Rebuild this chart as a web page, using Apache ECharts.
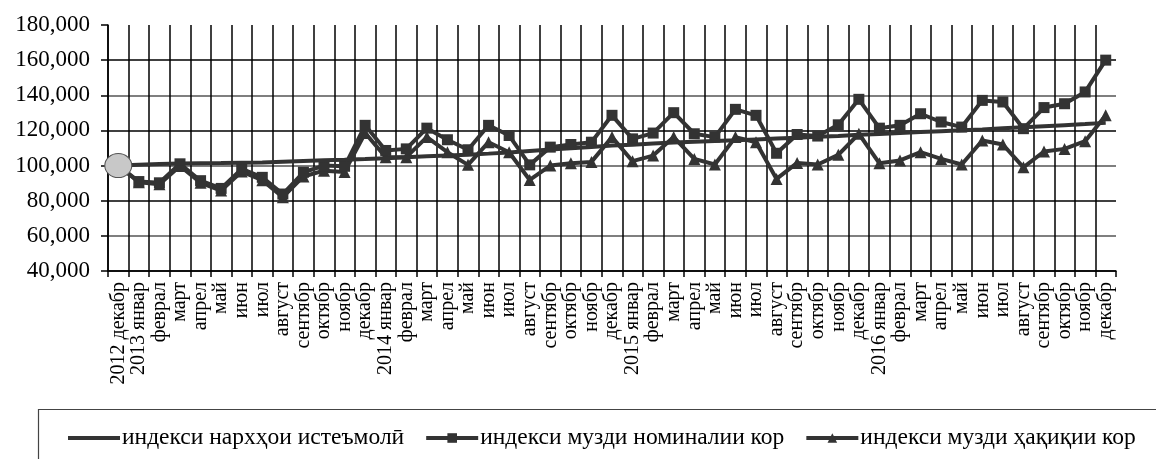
<!DOCTYPE html>
<html lang="tg">
<head>
	<meta charset="utf-8" />
	<title>индексҳо 2012-2016</title>
	<style type="text/css">
		html,body{margin:0;padding:0;background:#fff;}
		#main{width:1156px;height:459px;}
	</style>
</head>
<body>
	<div id="main"></div>
<script src="https://cdn.jsdelivr.net/npm/echarts/dist/echarts.min.js"></script>
<script>
	// категорияҳо: декабри 2012 то декабри 2016
	var months = ['2012 декабр', '2013 январ', 'феврал', 'март', 'апрел', 'май', 'июн', 'июл', 'август', 'сентябр', 'октябр', 'ноябр', 'декабр',
		'2014 январ', 'феврал', 'март', 'апрел', 'май', 'июн', 'июл', 'август', 'сентябр', 'октябр', 'ноябр', 'декабр',
		'2015 январ', 'феврал', 'март', 'апрел', 'май', 'июн', 'июл', 'август', 'сентябр', 'октябр', 'ноябр', 'декабр',
		'2016 январ', 'феврал', 'март', 'апрел', 'май', 'июн', 'июл', 'август', 'сентябр', 'октябр', 'ноябр', 'декабр'];

	// индекси нархҳои истеъмолӣ
	var cpi = [100, 100.5, 100.9, 101.2, 101.3, 101.4, 101.6, 101.8, 102.2, 102.6, 103.0, 103.3, 103.7,
		104.2, 104.7, 105.3, 105.8, 106.2, 106.8, 107.5, 108.3, 109.1, 109.8, 110.6, 111.4,
		111.9, 112.5, 113.1, 113.6, 114.0, 114.4, 114.9, 115.4, 115.9, 116.4, 116.8, 117.5,
		118.0, 118.6, 119.1, 119.6, 120.1, 120.6, 121.2, 121.8, 122.4, 123.0, 123.6, 124.3];

	// индекси музди номиналии кор
	var nominal = [100, 90.9, 90.2, 101.0, 91.4, 87.0, 98.1, 93.3, 83.8, 96.2, 100.0, 99.6, 122.9,
		108.6, 109.5, 121.3, 114.7, 109.0, 122.9, 117.1, 100.4, 110.5, 112.0, 113.3, 128.6,
		115.2, 118.5, 130.1, 118.1, 116.2, 132.0, 128.6, 107.0, 117.7, 116.8, 123.2, 137.7,
		121.3, 122.9, 129.5, 124.8, 121.9, 137.1, 136.2, 121.0, 133.0, 135.2, 141.9, 160.0];

	// индекси музди ҳақиқии кор
	var real = [100, 90.5, 89.4, 99.8, 90.2, 85.8, 96.6, 91.7, 82.0, 93.8, 97.1, 96.4, 118.5,
		104.8, 104.8, 116.2, 107.6, 100.4, 113.3, 107.6, 91.8, 100.0, 101.3, 102.1, 116.2,
		102.5, 105.7, 116.2, 103.8, 100.6, 116.2, 113.3, 92.4, 101.5, 100.6, 106.1, 118.1,
		101.3, 102.9, 107.6, 103.8, 100.6, 114.3, 112.0, 99.0, 108.0, 109.5, 113.9, 128.6];

	var yTicks = [40, 60, 80, 100, 120, 140, 160, 180];

	var names = ['индекси нархҳои истеъмолӣ', 'индекси музди номиналии кор', 'индекси музди ҳақиқии кор'];
	var lineColor = '#333';
	var font = '"Liberation Serif", "Times New Roman", serif';

	// хати болоӣ (180) ва хати охири амудӣ кашида намешаванд
	var ySplitColors = yTicks.map(function(v, i){
		if (i === yTicks.length - 1) return 'rgba(0,0,0,0)';
		return i % 2 ? '#555' : '#000';
	});
	var xSplitColors = [];
	for (var k = 0; k <= months.length; k++) {
		xSplitColors.push(k === months.length ? 'rgba(0,0,0,0)' : '#000');
	}

	// нуқтаи аввали индекси нарх бо доира
	var cpiData = cpi.map(function(v, i){
		if (i === 0) {
			return {
				value: v,
				symbol: 'circle',
				symbolSize: [27, 24],
				itemStyle: {color: '#c8c8c8', borderColor: '#555', borderWidth: 1}
			};
		}
		return v;
	});

	var chart = echarts.init(document.getElementById('main'));
	chart.setOption({
		backgroundColor: '#fff',
		animation: false,
		textStyle: {fontFamily: font, color: '#000'},
		grid: {left: 108, right: 40, top: 25, bottom: 188},
		xAxis: {
			type: 'category',
			data: months,
			boundaryGap: true,
			axisLine: {lineStyle: {color: '#000', width: 1.5}},
			axisTick: {show: true, interval: 0, length: 6, lineStyle: {color: '#000', width: 1.5}},
			splitLine: {show: true, interval: 0, lineStyle: {color: xSplitColors, width: 1.5}},
			axisLabel: {interval: 0, rotate: 90, margin: 11, fontSize: 20, color: '#000', fontFamily: font}
		},
		yAxis: {
			type: 'value',
			min: yTicks[0],
			max: yTicks[yTicks.length - 1],
			interval: 20,
			axisLine: {show: true, lineStyle: {color: '#000', width: 1.5}},
			axisTick: {show: true, length: 7, lineStyle: {color: '#000', width: 1.5}},
			splitLine: {show: true, lineStyle: {width: 1.5, color: ySplitColors}},
			axisLabel: {
				margin: 18, fontSize: 23, color: '#000', fontFamily: font,
				formatter: function(v){ return v.toFixed(3).replace('.', ','); }
			}
		},
		legend: {
			left: 61,
			top: 421,
			itemGap: 20,
			itemWidth: 52,
			itemHeight: 12,
			lineStyle: {width: 4},
			data: [
				{name: names[0], itemStyle: {opacity: 0}},
				names[1],
				names[2]
			],
			textStyle: {fontSize: 23.5, color: '#000', fontFamily: font, padding: [0, 0, 0, -3]}
		},
		graphic: [{
			type: 'rect',
			left: 36,
			top: 407,
			shape: {width: 1140, height: 70},
			style: {fill: 'none', stroke: '#444', lineWidth: 1.2},
			silent: true
		}],
		series: [{
			name: names[0],
			type: 'line',
			data: cpiData,
			symbol: 'none',
			lineStyle: {color: lineColor, width: 4},
			itemStyle: {color: lineColor},
			z: 4
		}, {
			name: names[1],
			type: 'line',
			data: nominal,
			symbol: 'rect',
			symbolSize: 11,
			lineStyle: {color: lineColor, width: 4},
			itemStyle: {color: lineColor},
			z: 3
		}, {
			name: names[2],
			type: 'line',
			data: real,
			symbol: 'triangle',
			symbolSize: 12,
			lineStyle: {color: lineColor, width: 4},
			itemStyle: {color: lineColor},
			z: 2
		}]
	});
</script>
</body>
</html>
